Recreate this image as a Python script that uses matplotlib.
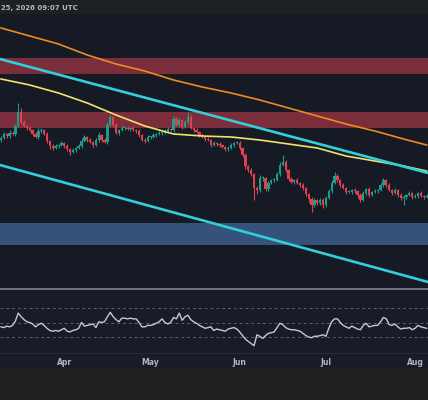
import matplotlib
matplotlib.use("Agg")
import matplotlib.pyplot as plt
import matplotlib.dates as mdates
import numpy as np
import pandas as pd

# daily closes, price units (one candle per day from Mar 10)
closes = [162, 166, 164, 167, 166, 174, 188, 178, 174, 172,
          170, 166, 163, 169, 170, 166, 159, 154, 152, 154,
          155, 157, 154, 151, 148, 150, 152, 154, 159, 163,
          160, 158, 155, 160, 165, 160, 158, 175, 183, 175,
          167, 170, 172, 172, 171, 172, 170, 169, 165, 160,
          159, 163, 163, 165, 166, 167, 167, 169, 171, 170,
          181, 175, 180, 173, 178, 183, 172, 170, 168, 165,
          163, 161, 160, 155, 157, 156, 155, 153, 151, 152,
          155, 157, 157, 152, 145, 134, 130, 126, 112, 110,
          122, 122, 111, 117, 120, 120, 126, 135, 138, 130,
          121, 118, 120, 117, 115, 112, 106, 101, 95, 100,
          97, 100, 95, 102, 109, 117, 124, 120, 115, 112,
          108, 108, 110, 109, 105, 100, 107, 111, 105, 108,
          109, 110, 115, 120, 115, 110, 107, 110, 105, 102,
          103, 105, 107, 103, 104, 107, 104, 103, 104]
first_open = 160

wick_up = [2, 2, 1, 3, 2, 2, 9, 4, 2, 1,
           2, 1, 2, 3, 2, 1, 2, 1, 2, 2,
           1, 2, 1, 2, 1, 2, 1, 2, 3, 2,
           1, 2, 1, 2, 3, 1, 2, 3, 2, 1,
           2, 1, 2, 1, 2, 1, 2, 1, 2, 1,
           2, 2, 1, 2, 1, 2, 1, 2, 2, 1,
           3, 2, 2, 1, 2, 5, 2, 1, 2, 1,
           2, 1, 2, 1, 2, 1, 2, 1, 1, 2,
           2, 1, 2, 2, 1, 2, 1, 2, 1, 2,
           3, 2, 1, 2, 1, 2, 2, 3, 7, 2,
           1, 2, 1, 2, 1, 2, 1, 1, 2, 2,
           1, 2, 2, 2, 2, 3, 4, 2, 1, 2,
           1, 2, 1, 2, 1, 2, 2, 1, 2, 1,
           2, 1, 2, 2, 1, 2, 1, 2, 1, 2,
           2, 1, 2, 1, 2, 1, 2, 1, 2]
wick_dn = [2, 1, 2, 2, 1, 2, 1, 2, 1, 2,
           1, 2, 1, 2, 2, 1, 2, 3, 2, 1,
           2, 1, 2, 2, 3, 1, 2, 1, 2, 1,
           2, 1, 2, 1, 2, 2, 1, 2, 1, 2,
           1, 2, 1, 2, 1, 2, 1, 2, 2, 1,
           2, 1, 2, 1, 2, 1, 2, 1, 2, 1,
           2, 1, 2, 2, 1, 2, 1, 2, 1, 2,
           1, 2, 1, 2, 1, 2, 2, 1, 2, 2,
           1, 2, 1, 2, 2, 3, 2, 2, 12, 4,
           2, 3, 2, 2, 1, 2, 1, 2, 1, 2,
           2, 1, 2, 1, 2, 2, 2, 3, 7, 2,
           2, 2, 3, 2, 1, 2, 1, 2, 2, 1,
           2, 1, 2, 2, 3, 2, 1, 2, 2, 1,
           1, 2, 1, 2, 2, 1, 2, 1, 2, 2,
           7, 2, 1, 2, 1, 2, 1, 2, 1]

rsi = [44, 43, 45, 44, 46, 52, 63, 58, 54, 51,
       50, 48, 44, 47, 49, 46, 42, 39, 38, 39,
       38, 40, 42, 38, 37, 39, 40, 42, 50, 45,
       46, 47, 48, 43, 51, 50, 51, 58, 64, 58,
       54, 51, 56, 56, 55, 56, 55, 55, 50, 44,
       44, 46, 46, 47, 49, 51, 55, 50, 48, 50,
       57, 55, 63, 53, 58, 60, 54, 51, 49, 46,
       44, 42, 43, 44, 39, 41, 40, 39, 38, 41,
       42, 43, 41, 37, 32, 27, 24, 21, 18, 33,
       31, 28, 32, 35, 36, 37, 43, 49, 47, 43,
       41, 40, 40, 39, 38, 35, 32, 30, 29, 31,
       31, 32, 33, 31, 42, 51, 55, 55, 50, 46,
       44, 42, 45, 43, 41, 40, 46, 49, 44, 45,
       46, 46, 51, 57, 55, 47, 46, 48, 44, 41,
       42, 42, 43, 40, 42, 46, 44, 43, 42]

# moving averages, read every 10 days
ma_idx = [0, 10, 20, 30, 40, 50, 60, 70, 80, 90, 100, 110, 120, 130, 140, 148]
ma_orange = [272, 264, 256, 245, 236, 229, 220, 213, 207, 200, 192, 184, 176, 169, 161, 155]
ma_yellow = [221, 215, 207, 197, 185, 174, 166, 164, 163, 160, 156, 152, 144, 139, 134, 129]

# trend channel: (day index, price) anchors
upper_line = [(0, 240.7), (148, 127.4)]
lower_line = [(0, 134.7), (148, 18.4)]

# zones (price from, price to)
red_zones = [(226, 242), (172, 188)]
blue_zone = (55, 77)

start = pd.Timestamp("2026-03-10")

dates = pd.date_range(start, periods=len(closes), freq="D")
x = mdates.date2num(dates)
opens = [first_open] + closes[:-1]
highs = [max(o, c) + w for o, c, w in zip(opens, closes, wick_up)]
lows = [min(o, c) - w for o, c, w in zip(opens, closes, wick_dn)]

BG = "#161a25"
GREEN = "#1f9b8a"
RED = "#e0414f"

fig = plt.figure(figsize=(4.28, 4.0), dpi=100, facecolor="#1f2022")

# header strip
fig.text(0.002, 1 - 8 / 400, "25, 2026 09:07 UTC", color="#b4b8c2", fontsize=5,
         fontweight="bold", va="center", ha="left")

ax = fig.add_axes([0, 1 - 288 / 400, 1, 274 / 400])
ax.set_facecolor(BG)
for z in red_zones:
    ax.axhspan(z[0], z[1], color="#7a2e3b", lw=0, zorder=1)
ax.axhspan(blue_zone[0], blue_zone[1], color="#35527b", lw=0, zorder=1)

cols = [GREEN if c >= o else RED for o, c in zip(opens, closes)]
ax.vlines(x, lows, highs, colors=cols, lw=0.8, zorder=3)
bottoms = [min(o, c) for o, c in zip(opens, closes)]
heights = [max(abs(c - o), 0.8) for o, c in zip(opens, closes)]
ax.bar(x, heights, bottom=bottoms, width=0.8, color=cols, lw=0, zorder=4)

xm = x[ma_idx]
ax.plot(xm, ma_orange, color="#ef8a22", lw=1.2, zorder=5)
ax.plot(xm, ma_yellow, color="#f1e26e", lw=1.2, zorder=5)

for ln in (upper_line, lower_line):
    p0 = (x[0] + ln[0][0], ln[0][1])
    p1 = (x[0] + ln[1][0], ln[1][1])
    ax.axline(p0, p1, color="#33cfd9", lw=1.9, zorder=6)

ax.set_xlim(x[0] - 0.35, x[0] + 148.5)
ax.set_ylim(12, 286)
ax.set_xticks([])
ax.set_yticks([])
for s in ax.spines.values():
    s.set_visible(False)

# separator between panes
fig.add_artist(plt.Line2D([0, 1], [1 - 289 / 400] * 2, color="#80838c", lw=1.2))

# RSI pane
rax = fig.add_axes([0, 1 - 368 / 400, 1, 78 / 400])
rax.set_facecolor("#181c27")
for lvl in (70, 50, 30):
    rax.axhline(lvl, color="#5c606c", lw=0.7, ls=(0, (3, 3)))
rax.axhline(30 - 16 / 0.725, color="#262a35", lw=0.8)
rax.plot(x, rsi, color="#c3c9da", lw=1.0)
rax.set_xlim(ax.get_xlim())
rax.set_ylim(30 - 31 / 0.725, 70 + 18 / 0.725)
rax.set_yticks([])
rax.xaxis.set_major_locator(mdates.MonthLocator())
rax.xaxis.set_major_formatter(mdates.DateFormatter("%b"))
rax.tick_params(axis="x", length=0, direction="in", pad=-7.5, labelsize=5.5,
                labelcolor="#b2b5be")
for lbl in rax.get_xticklabels():
    lbl.set_fontweight("bold")
for s in rax.spines.values():
    s.set_visible(False)

fig.savefig("out.png", dpi=100, facecolor=fig.get_facecolor())
